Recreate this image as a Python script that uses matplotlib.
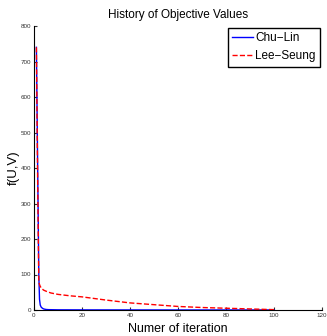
import matplotlib
matplotlib.use("Agg")
import matplotlib.pyplot as plt

plt.rcParams['font.family'] = ['Liberation Sans', 'DejaVu Sans']

# Chu-Lin objective values per iteration
cl_iter = [1, 1.5, 2, 2.3, 2.6, 3, 3.5, 4, 5, 6, 10, 20, 40, 60, 80, 100]
cl_val = [740, 420, 100, 30, 14, 8, 5, 3, 1.5, 1, 0.5, 0.3, 0.2, 0.1, 0.1, 0.1]

# Lee-Seung objective values per iteration
ls_iter = [1, 1.5, 2, 2.5, 3, 4, 5, 7, 10, 15, 20, 30, 40, 50, 60, 70, 80, 90, 100]
ls_val = [740, 380, 78, 68, 62, 56, 53, 48, 44, 40, 37, 28, 20, 15, 10, 7, 5, 3, 1]

fig = plt.figure(figsize=(3.27, 3.36), dpi=100)
ax = fig.add_axes([34/327, 1 - 310/336, 288/327, 284/336])

ax.plot(cl_iter, cl_val, color='blue', lw=1.0, label='Chu\u2212Lin')
ax.plot(ls_iter, ls_val, color='red', lw=1.0, ls='--', label='Lee\u2212Seung')

ax.set_xlim(0, 120)
ax.set_ylim(0, 800)
ax.set_xticks(range(0, 121, 20))
ax.set_yticks(range(0, 801, 100))
ax.tick_params(direction='in', length=2, labelsize=4.5, width=0.8, pad=2, colors='#333333')
ax.spines['top'].set_visible(False)
ax.spines['right'].set_visible(False)

ax.set_title('History of Objective Values', fontsize=8.5, pad=6)
ax.set_xlabel('Numer of iteration', fontsize=9, labelpad=4)
ax.set_ylabel('f(U,V)', fontsize=9.5)
ax.yaxis.set_label_coords(-0.07, 0.5)
ax.yaxis.label.set_va('center')

leg = ax.legend(loc='upper right', fontsize=8.5, frameon=True, fancybox=False,
                edgecolor='black', framealpha=1, borderpad=0.35, handlelength=1.8,
                handletextpad=0.15, borderaxespad=0.2, labelspacing=0.5)
leg.get_frame().set_linewidth(1.0)

fig.savefig('out.png', dpi=100)
